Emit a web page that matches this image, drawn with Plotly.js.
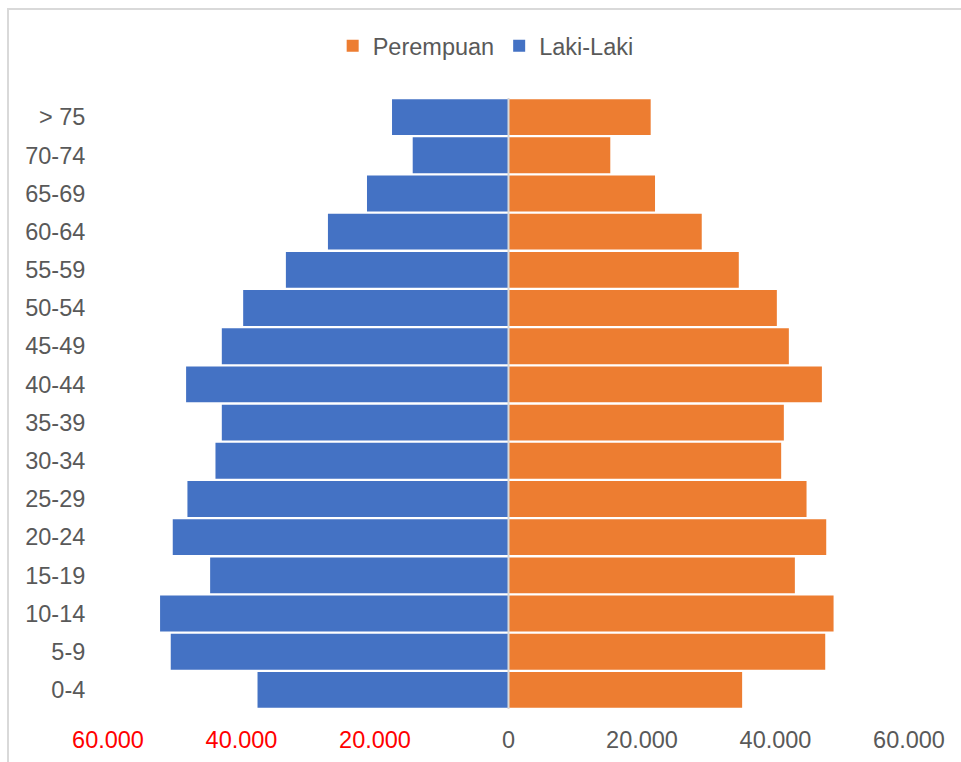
<!DOCTYPE html>
<html>
<head>
<meta charset="utf-8">
<script src="https://cdn.plot.ly/plotly-3.0.1.min.js"></script>
<style>
  html, body { margin: 0; padding: 0; background: #fff; }
  #wrap { position: relative; width: 961px; height: 762px; }
  #chart { position: absolute; left: 0; top: 0; width: 961px; height: 762px; }
  #frame { position: absolute; left: 7px; top: 8px; right: -4px; bottom: -4px;
           border-left: 2px solid #d9d9d9; border-top: 2px solid #d9d9d9; pointer-events: none; }
</style>
</head>
<body>
<div id="wrap">
  <div id="chart"></div>
  <div id="frame"></div>
</div>
<script>
// Age groups (bottom to top)
const ageGroups = ['0-4','5-9','10-14','15-19','20-24','25-29','30-34','35-39',
                   '40-44','45-49','50-54','55-59','60-64','65-69','70-74','> 75'];

// Perempuan (female) population
const perempuan = [35000, 47450, 48700, 42900, 47600, 44650, 40850, 41250,
                   46950, 42000, 40200, 34500, 28950, 21950, 15250, 21300];

// Laki-Laki (male) population
const lakiLaki = [37600, 50600, 52200, 44700, 50300, 48100, 43900, 42950,
                  48300, 42950, 39750, 33350, 27050, 21200, 14350, 17450];

// Axis ticks
const tickValues = [-60000, -40000, -20000, 0, 20000, 40000, 60000];
const tickLabels = ['<span style="color:#ff0000">60.000</span>',
                    '<span style="color:#ff0000">40.000</span>',
                    '<span style="color:#ff0000">20.000</span>',
                    '0', '20.000', '40.000', '60.000'];

const FONT = '"Liberation Sans", Arial, sans-serif';
const TEXT = '#595959';

const traces = [
  {
    type: 'bar', orientation: 'h', name: 'Perempuan',
    y: ageGroups, x: perempuan,
    marker: { color: '#ED7D31', line: { width: 0 } },
    hoverinfo: 'y+x'
  },
  {
    type: 'bar', orientation: 'h', name: 'Laki-Laki',
    y: ageGroups, x: lakiLaki.map(v => -v),
    customdata: lakiLaki,
    marker: { color: '#4472C4', line: { width: 0 } },
    hovertemplate: '%{y}: %{customdata}<extra>Laki-Laki</extra>'
  }
];

const layout = {
  width: 961, height: 762,
  margin: { l: 108, r: 52, t: 98, b: 53, pad: 0 },
  paper_bgcolor: '#ffffff', plot_bgcolor: '#ffffff',
  font: { family: FONT, size: 23, color: TEXT },
  barmode: 'relative',
  bargap: 0.062,
  showlegend: true,
  legend: {
    orientation: 'h', x: 0.4715, xanchor: 'center', y: 1.085, yanchor: 'middle',
    font: { family: FONT, size: 23.5, color: TEXT },
    itemclick: false, traceorder: 'normal'
  },
  xaxis: {
    range: [-60000, 60000], tickvals: tickValues, ticktext: tickLabels,
    showgrid: false, zeroline: false, showline: false,
    ticks: 'outside', ticklen: 10, tickcolor: 'rgba(0,0,0,0)',
    tickfont: { family: FONT, size: 23.5, color: TEXT },
    fixedrange: true
  },
  yaxis: {
    type: 'category', categoryorder: 'array', categoryarray: ageGroups,
    showgrid: false, zeroline: false, showline: false,
    ticks: 'outside', ticklen: 17, tickcolor: 'rgba(0,0,0,0)',
    tickfont: { family: FONT, size: 23.5, color: TEXT },
    fixedrange: true
  },
  shapes: [
    { type: 'line', xref: 'x', yref: 'paper', x0: 0, x1: 0, y0: 0, y1: 1,
      line: { color: '#d9d9d9', width: 2 }, layer: 'above' }
  ]
};

Plotly.newPlot('chart', traces, layout, { displayModeBar: false, staticPlot: true });
</script>
</body>
</html>
